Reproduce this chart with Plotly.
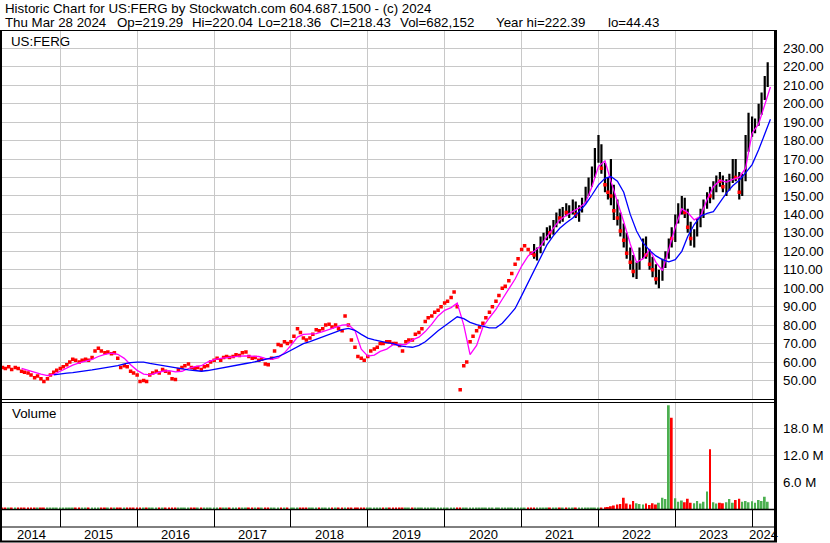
import pandas as pd
import plotly.graph_objects as go

# ---------------- data ----------------
# semi-monthly sampling dates, 2014-04-01 .. 2024-03-15 (240 points)
dates = pd.date_range("2014-04-01", "2024-03-15", freq="SMS")

# early period (thin OTC trading, drawn as dots): closes
close_2014 = [57, 56.5, 57.5, 56, 57, 56.5, 55, 54.5, 54, 53, 51.5, 52.5, 51, 49.5, 51, 53, 54.5, 55.5]
close_2015 = [56.5, 57.5, 58.5, 60, 61.5, 61, 60, 61, 61.5, 61, 62.5, 66, 67.5, 66, 65, 65.5, 64.5, 65, 62, 57, 58, 57.5, 55, 54]
close_2016 = [53, 49.5, 50, 49.5, 53, 54, 55, 54, 56, 55, 54, 51, 50.5, 56, 57, 58, 59, 57, 56.5, 57, 56, 57.5, 58, 60]
close_2017 = [61, 62, 61, 62.5, 63, 62.5, 63, 64, 63.5, 65, 65.5, 63, 62, 62.5, 61, 61.5, 59, 58.5, 62, 66, 69.5, 69, 71, 70]
close_2018 = [71, 74, 78, 76, 73, 72, 73, 75, 77.5, 77, 78, 80, 80.5, 79, 80, 78, 77, 85, 80, 72, 68, 63, 62, 61]
close_2019 = [63, 66, 67, 68, 70, 70, 71, 71, 70, 70, 69, 66, 71, 72, 72, 75, 76, 78, 82, 84, 85, 87, 88, 90]
close_2020 = [92, 93, 95, 98, 90, 45, 58, 60, 71, 74, 77, 79, 81, 84, 87, 90, 93, 96, 100, 101, 104, 108, 113, 116]
close_2021_early = [121, 123, 121, 119]

# NYSE period (2021-03 .. 2024-03): OHLC
open_late = [120, 118, 120, 126, 128, 131, 130, 136, 139, 138, 142, 141, 143, 146, 140, 142, 147, 153, 158, 163,
             172, 176, 165, 156, 152, 150, 142, 138, 131, 126, 119, 114, 109, 112, 120, 124, 118, 113, 110, 105, 108, 114, 118, 130,
             127, 137, 143, 147, 141, 133, 127, 130, 136, 141, 146, 153, 150, 155, 159, 158, 155, 157, 159, 166, 160, 152, 160, 178,
             186, 187, 190, 197, 204, 212]
high_late = [124, 122, 128, 130, 133, 134, 137, 141, 143, 144, 146, 145, 148, 147, 145, 149, 155, 160, 166, 176,
             183, 178, 168, 160, 170, 156, 148, 141, 135, 130, 122, 118, 114, 122, 127, 128, 121, 117, 113, 110, 116, 120, 127, 133,
             140, 146, 150, 149, 143, 136, 132, 138, 143, 148, 152, 155, 158, 161, 163, 161, 159, 162, 170, 170, 163, 162, 183, 195,
             193, 192, 200, 206, 215, 222.4]
low_late = [116, 115, 119, 123, 126, 127, 129, 133, 135, 136, 139, 138, 140, 138, 136, 141, 146, 150, 155, 160,
            168, 162, 152, 148, 145, 137, 134, 128, 122, 116, 110, 106, 105, 110, 116, 116, 110, 106, 102, 100, 104, 111, 116, 122,
            125, 135, 140, 138, 130, 123, 122, 128, 133, 138, 143, 146, 148, 152, 155, 152, 150, 153, 157, 158, 148, 150, 158, 174,
            182, 184, 188, 194, 202, 209]
close_late = [118, 120, 126, 128, 131, 130, 136, 139, 138, 142, 141, 143, 146, 140, 142, 147, 153, 158, 163, 172,
              176, 165, 156, 152, 150, 142, 138, 131, 126, 119, 114, 109, 112, 120, 124, 118, 113, 110, 105, 108, 114, 118, 125, 127,
              137, 143, 147, 141, 133, 127, 130, 136, 141, 146, 149, 150, 155, 159, 158, 155, 157, 159, 166, 160, 152, 160, 178, 186,
              187, 190, 197, 204, 212, 218.4]

# volume in millions (semi-monthly)
vol_2014 = [0.25, 0.2, 0.3, 0.15, 0.2, 0.25, 0.18, 0.3, 0.2, 0.22, 0.28, 0.15, 0.2, 0.3, 0.25, 0.2, 0.18, 0.22]
vol_2015 = [0.2, 0.3, 0.25, 0.18, 0.22, 0.3, 0.2, 0.15, 0.25, 0.28, 0.2, 0.3, 0.22, 0.18, 0.25, 0.2, 0.3, 0.22, 0.26, 0.2, 0.18, 0.3, 0.2, 0.25]
vol_2016 = [0.3, 0.22, 0.18, 0.25, 0.2, 0.28, 0.2, 0.15, 0.22, 0.3, 0.25, 0.2, 0.18, 0.25, 0.2, 0.3, 0.22, 0.2, 0.26, 0.18, 0.2, 0.25, 0.3, 0.2]
vol_2017 = [0.2, 0.25, 0.18, 0.3, 0.22, 0.2, 0.15, 0.25, 0.28, 0.2, 0.22, 0.3, 0.2, 0.18, 0.25, 0.2, 0.22, 0.3, 0.25, 0.2, 0.18, 0.22, 0.25, 0.2]
vol_2018 = [0.25, 0.3, 0.2, 0.22, 0.18, 0.25, 0.2, 0.3, 0.22, 0.2, 0.25, 0.18, 0.2, 0.28, 0.22, 0.25, 0.2, 0.3, 0.25, 0.22, 0.28, 0.3, 0.25, 0.2]
vol_2019 = [0.22, 0.2, 0.25, 0.18, 0.2, 0.22, 0.3, 0.2, 0.25, 0.18, 0.22, 0.2, 0.25, 0.2, 0.18, 0.22, 0.25, 0.2, 0.3, 0.22, 0.2, 0.25, 0.2, 0.22]
vol_2020 = [0.25, 0.2, 0.3, 0.35, 0.3, 0.25, 0.2, 0.22, 0.25, 0.2, 0.18, 0.22, 0.2, 0.25, 0.22, 0.2, 0.25, 0.2, 0.22, 0.18, 0.2, 0.25, 0.22, 0.2]
vol_2021 = [0.2, 0.22, 0.25, 0.2, 0.15, 0.2, 0.25, 0.2, 0.18, 0.2, 0.22, 0.2, 0.15, 0.2, 0.25, 0.22, 0.2, 0.25, 0.3, 0.28, 0.25, 0.3, 0.28, 0.3]
vol_2022 = [0.3, 0.35, 0.4, 0.45, 0.6, 0.8, 1.0, 1.1, 2.5, 1.2, 1.0, 1.8, 1.3, 1.1, 1.0, 1.2, 0.9, 1.3, 1.0, 1.4, 2.5, 2.2, 23.1, 20.3]
vol_2023 = [2.4, 1.6, 1.9, 1.5, 2.3, 1.4, 1.3, 1.8, 1.2, 1.6, 3.9, 13.3, 1.5, 1.2, 1.4, 1.3, 1.5, 2.2, 1.4, 2.0, 2.3, 1.6, 1.8, 1.5]
vol_2024 = [1.7, 1.4, 2.0, 1.8, 2.7, 1.6]

# moving averages (monthly readings)
ma_fast_dates = list(pd.date_range("2014-07-01", "2024-03-01", freq="MS")) + [pd.Timestamp("2024-03-28")]
ma_fast = [56.6, 55.5, 54.5, 53.5, 52.7, 53.3,
           55, 56.8, 58.3, 59.5, 60.3, 61.5, 63, 64.2, 64.8, 64.2, 62, 58.5,
           55.5, 53.5, 53, 54, 55, 55.3, 54.7, 55, 56.5, 57.5, 58, 60,
           61.3, 62, 62.5, 63, 63.2, 63.3, 63.2, 63, 62, 61.5, 62.3, 65,
           69, 73.5, 75, 75.4, 75.4, 76.5, 77.7, 79, 80, 80.3, 77, 67,
           63.2, 63.8, 65.8, 67, 69.4, 69.5, 69.4, 72, 73.5, 76.5, 80.5, 85,
           88, 89.5, 92, 80, 64, 69, 79, 84, 88.5, 94, 100, 105,
           112, 117.5, 120, 122.8, 128, 132.5, 137, 139.5, 141.5, 143.5, 146.5, 155,
           166, 169, 158, 147, 136, 124, 114, 116, 121, 114, 109.5, 121,
           133, 143, 141, 137, 139, 148, 155, 158.5, 157.5, 159, 160, 165,
           184, 189, 200, 209]
ma_slow_dates = list(pd.date_range("2014-12-01", "2024-03-01", freq="MS")) + [pd.Timestamp("2024-03-28")]
ma_slow = [53,
           53.6, 54, 54.3, 54.7, 55.2, 55.7, 56.3, 56.8, 57.4, 58, 59, 59.7,
           60, 60, 59.3, 58.7, 58, 57.2, 56.8, 56.2, 55.8, 55.4, 55, 55.4,
           56, 56.5, 57.2, 57.8, 58.5, 59.2, 59.8, 60.6, 61.4, 62.2, 63, 64.5,
           66.5, 68.5, 70, 71, 72.3, 73.8, 75.2, 76.6, 77.6, 78.2, 77.2, 75,
           73, 72, 71.2, 70.5, 70, 68.8, 68.3, 68, 69, 71, 74, 77,
           79.5, 82, 84.5, 83.5, 81.5, 80.3, 79.5, 78.5, 78.5, 81, 85, 89,
           96, 103, 110, 117, 123.5, 128.5, 132.5, 135.5, 138, 141.5, 145.5, 150.5,
           156, 159.5, 160.5, 158, 152, 140, 131, 124.5, 120.5, 117.5, 115.5, 114.3,
           115.5, 120, 128, 134.5, 139, 140.5, 141.5, 146.5, 151.5, 155.5, 158.5, 162.5,
           167, 175, 183, 191.5]

year_starts = [f"{y}-01-01" for y in range(2015, 2025)]
year_labels = [str(y) for y in range(2014, 2025)]
year_label_pos = ["2014-08-15"] + [f"{y}-07-02" for y in range(2015, 2024)] + ["2024-02-22"]
price_ticks = list(range(50, 240, 10))
vol_ticks = [6, 12, 18]
vol_tick_text = ["6.0 M", "12.0 M", "18.0 M"]

header1 = "Historic Chart for US:FERG by Stockwatch.com 604.687.1500 - (c) 2024"
header2 = ["Thu Mar 28 2024", "Op=219.29", "Hi=220.04", "Lo=218.36", "Cl=218.43",
           "Vol=682,152", "Year hi=222.39", "lo=44.43"]
header2_px = [3, 115, 190, 256, 328, 398, 494, 606]

# ---------------- assemble ----------------
early_close = close_2014 + close_2015 + close_2016 + close_2017 + close_2018 + close_2019 + close_2020 + close_2021_early
n_early = len(early_close)
early_dates = dates[:n_early]
late_dates = dates[n_early:]
volume = vol_2014 + vol_2015 + vol_2016 + vol_2017 + vol_2018 + vol_2019 + vol_2020 + vol_2021 + vol_2022 + vol_2023 + vol_2024

RED = "#ff0000"
GREEN = "#4caf50"
GRID = "#c8c8c8"
FONT = "Liberation Sans, Arial, sans-serif"

vol_colors = []
for i in range(len(volume)):
    if i < n_early:
        prev = early_close[i - 1] if i > 0 else early_close[0]
        vol_colors.append(GREEN if early_close[i] > prev else RED)
    else:
        j = i - n_early
        vol_colors.append(GREEN if close_late[j] >= open_late[j] else RED)

down_x = [late_dates[j] for j in range(len(close_late)) if close_late[j] < open_late[j]]
down_y = [close_late[j] for j in range(len(close_late)) if close_late[j] < open_late[j]]

# ---------------- geometry (pixels) ----------------
W, H = 830, 543
PL, PR, PT, PB = 2, 774, 31, 509      # plot area
def xp(px):
    return (px - PL) / (PR - PL)
def yp(py):
    return (PB - py) / (PB - PT)

price_bottom_px = 399.5
vol_top_px = 402.5

fig = go.Figure()

fig.add_trace(go.Scatter(x=early_dates, y=early_close, mode="markers",
                         marker=dict(symbol="square", size=3.5, color=RED, line=dict(width=0)),
                         xaxis="x", yaxis="y", hoverinfo="skip", showlegend=False))
fig.add_trace(go.Ohlc(x=late_dates, open=open_late, high=high_late, low=low_late, close=close_late,
                      increasing=dict(line=dict(color="black", width=2.2)),
                      decreasing=dict(line=dict(color="black", width=2.2)),
                      tickwidth=0.3, xaxis="x", yaxis="y", hoverinfo="skip", showlegend=False))
fig.add_trace(go.Scatter(x=down_x, y=down_y, mode="markers",
                         marker=dict(symbol="square", size=3.5, color=RED, line=dict(width=0)),
                         xaxis="x", yaxis="y", hoverinfo="skip", showlegend=False))
fig.add_trace(go.Scatter(x=ma_fast_dates, y=ma_fast, mode="lines",
                         line=dict(color="#ff00ff", width=1.3),
                         xaxis="x", yaxis="y", hoverinfo="skip", showlegend=False))
fig.add_trace(go.Scatter(x=ma_slow_dates, y=ma_slow, mode="lines",
                         line=dict(color="#0000ff", width=1.3),
                         xaxis="x", yaxis="y", hoverinfo="skip", showlegend=False))
fig.add_trace(go.Bar(x=dates, y=volume, marker=dict(color=vol_colors, line=dict(width=0)),
                     xaxis="x2", yaxis="y2", hoverinfo="skip", showlegend=False))

xr = ["2014-03-30", "2024-04-14"]
common_x = dict(range=xr, type="date", tickvals=year_starts, showticklabels=False,
                showgrid=True, gridcolor=GRID, gridwidth=1, zeroline=False, showline=False)

fig.update_layout(
    width=W, height=H,
    margin=dict(l=PL, r=W - PR, t=PT, b=H - PB, pad=0),
    paper_bgcolor="white", plot_bgcolor="white",
    font=dict(family=FONT, size=13, color="black"),
    showlegend=False, bargap=0.35,
    xaxis=dict(domain=[0, 1], anchor="y", ticks="", rangeslider=dict(visible=False), **common_x),
    xaxis2=dict(domain=[0, 1], anchor="y2", matches="x", ticks="outside", ticklen=17,
                tickcolor="black", tickwidth=1, **common_x),
    yaxis=dict(domain=[yp(price_bottom_px), 1], range=[39.7, 239.36], side="right",
               tickvals=price_ticks, ticktext=[f"{v:.2f}" for v in price_ticks],
               showgrid=True, gridcolor=GRID, zeroline=False, showline=False, ticks="",
               ticklabelstandoff=8, tickfont=dict(family=FONT, size=13.3, color="black")),
    yaxis2=dict(domain=[0, yp(vol_top_px)], range=[0, 23.7], side="right",
                tickvals=vol_ticks, ticktext=vol_tick_text,
                showgrid=True, gridcolor=GRID, zeroline=False, showline=False, ticks="",
                ticklabelstandoff=8, tickfont=dict(family=FONT, size=13.3, color="black")),
)

shapes = []
def hline(py, x0=0, x1=777, w=1):
    shapes.append(dict(type="line", xref="paper", yref="paper", x0=xp(x0), x1=xp(x1),
                       y0=yp(py), y1=yp(py), line=dict(color="black", width=w)))
def vline(px, y0=30, y1=542, w=1):
    shapes.append(dict(type="line", xref="paper", yref="paper", x0=xp(px), x1=xp(px),
                       y0=yp(y0), y1=yp(y1), line=dict(color="black", width=w)))

hline(30.5)
hline(399.5)
hline(402.5)
hline(509.5, w=1.5)
hline(527)
hline(541.5, w=2)
vline(1, w=2)
vline(775.5, w=3)
fig.update_layout(shapes=shapes)

ann = []
ann.append(dict(text=header1, xref="paper", yref="paper", x=xp(3), y=yp(8),
                xanchor="left", yanchor="middle", showarrow=False,
                font=dict(family=FONT, size=13.3, color="black")))
for t, px in zip(header2, header2_px):
    ann.append(dict(text=t, xref="paper", yref="paper", x=xp(px), y=yp(22.5),
                    xanchor="left", yanchor="middle", showarrow=False,
                    font=dict(family=FONT, size=13.3, color="black")))
ann.append(dict(text="US:FERG", xref="paper", yref="paper", x=xp(8.5), y=yp(41.5),
                xanchor="left", yanchor="middle", showarrow=False,
                font=dict(family=FONT, size=13.3, color="black")))
ann.append(dict(text="Volume", xref="paper", yref="paper", x=xp(9.5), y=yp(413),
                xanchor="left", yanchor="middle", showarrow=False,
                font=dict(family=FONT, size=13.3, color="black")))
for lab, pos in zip(year_labels, year_label_pos):
    ann.append(dict(text=lab, xref="x2", yref="paper", x=pos, y=yp(534.5),
                    xanchor="center", yanchor="middle", showarrow=False,
                    font=dict(family=FONT, size=13, color="black")))
fig.update_layout(annotations=ann)

fig.write_html("out.html", config={"displayModeBar": False},
               post_script="document.body.style.margin='0';document.body.style.overflow='hidden';")
